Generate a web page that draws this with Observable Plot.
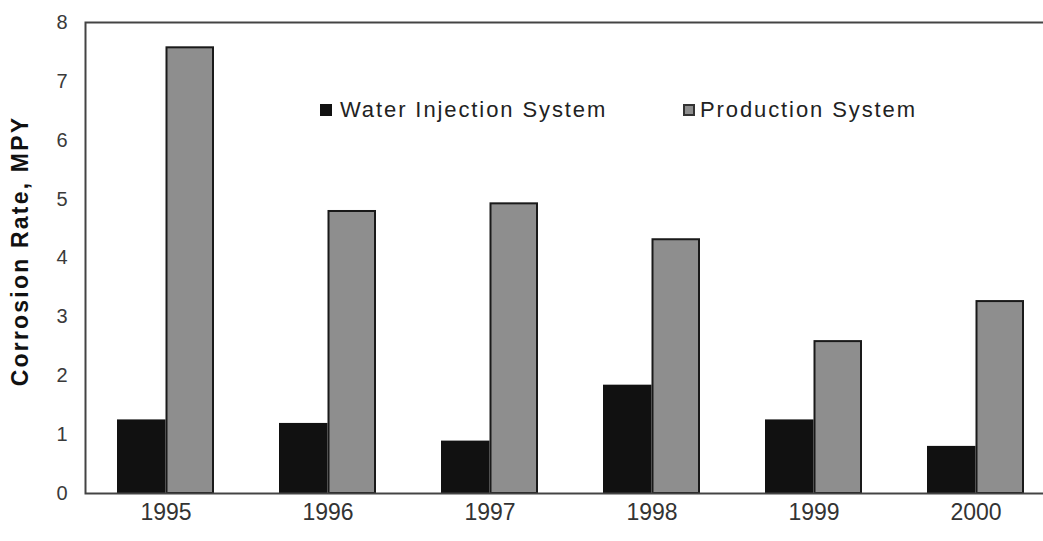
<!DOCTYPE html>
<html>
<head>
<meta charset="utf-8">
<script src="https://cdn.jsdelivr.net/npm/d3@7"></script>
<script src="https://cdn.jsdelivr.net/npm/@observablehq/plot@0.6"></script>
<style>
  html, body { margin: 0; padding: 0; background: #fff; overflow: hidden; }
  #wrap { position: relative; width: 1043px; height: 541px; font-family: "Liberation Sans", Arial, sans-serif; }
  #wrap svg { overflow: hidden; }
  [aria-label="x-axis tick label"] text, g[aria-label="x-axis"] .tick text { font-size: 23px; }
  [aria-label="y-axis tick label"] text, g[aria-label="y-axis"] .tick text { fill: #3a3a3a; }
  .legend { position: absolute; top: 97px; display: flex; align-items: center; font-size: 22px; letter-spacing: 1.9px; color: #222; white-space: nowrap; }
  .legend .sw { width: 12px; height: 12px; margin-right: 8px; box-sizing: border-box; }
  .ylabel { position: absolute; left: 20px; top: 251px; transform: translate(-50%, -50%) rotate(-90deg); font-weight: bold; font-size: 23px; letter-spacing: 2.2px; color: #111; white-space: nowrap; }
</style>
</head>
<body>
<div id="wrap"></div>
<script>
const years = ["1995", "1996", "1997", "1998", "1999", "2000"];
const waterInjection = [1.25, 1.19, 0.89, 1.84, 1.25, 0.80];
const production = [7.57, 4.79, 4.92, 4.31, 2.58, 3.26];
const seriesNames = ["Water Injection System", "Production System"];
const yTicks = [0, 1, 2, 3, 4, 5, 6, 7, 8];
const yTitle = "Corrosion Rate, MPY";
const colors = ["#111111", "#8e8e8e"];

const waterData = years.map((year, i) => ({year, value: waterInjection[i], series: seriesNames[0]}));
const prodData = years.map((year, i) => ({year, value: production[i], series: seriesNames[1]}));

const chart = Plot.plot({
  width: 1043,
  height: 541,
  marginLeft: 85,
  marginRight: -12,
  marginTop: 22,
  marginBottom: 48,
  style: {fontFamily: "Liberation Sans, Arial, sans-serif", fontSize: "20px", color: "#333", background: "#fff"},
  x: {domain: years, paddingInner: 0.403, paddingOuter: 0.185, tickSize: 0, tickPadding: 10, label: null},
  y: {domain: [0, 8], ticks: yTicks, tickSize: 0, tickPadding: 18, label: null},
  color: {domain: seriesNames, range: colors},
  marks: [
    Plot.barY(waterData, {x: "year", y: "value", fill: colors[0], insetRight: 48.5, insetLeft: 0}),
    Plot.barY(prodData, {x: "year", y: "value", fill: colors[1], stroke: "#1a1a1a", strokeWidth: 2, insetLeft: 49.5, insetRight: 1}),
    Plot.frame({stroke: "#444", strokeWidth: 2})
  ]
});

const wrap = document.getElementById("wrap");
wrap.appendChild(chart);

const yl = document.createElement("div");
yl.className = "ylabel";
yl.textContent = yTitle;
wrap.appendChild(yl);

const legendPos = [320, 683];
seriesNames.forEach((name, i) => {
  const item = document.createElement("div");
  item.className = "legend";
  item.style.left = legendPos[i] + "px";
  const sw = document.createElement("div");
  sw.className = "sw";
  sw.style.background = colors[i];
  if (i === 1) sw.style.border = "2px solid #333";
  if (i === 1) sw.style.marginRight = "5px";
  const label = document.createElement("span");
  label.textContent = name;
  item.appendChild(sw);
  item.appendChild(label);
  wrap.appendChild(item);
});
</script>
</body>
</html>
